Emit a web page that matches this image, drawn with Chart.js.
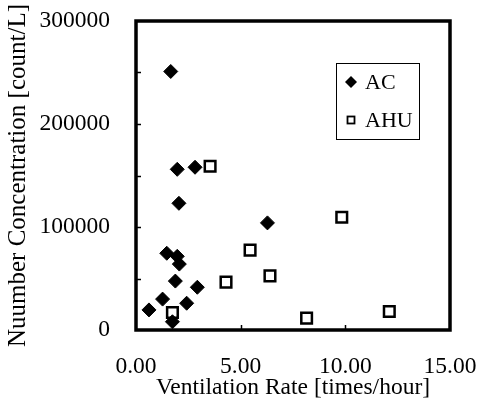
<!DOCTYPE html>
<html>
<head>
<meta charset="utf-8">
<script src="https://cdn.jsdelivr.net/npm/chart.js@4/dist/chart.umd.min.js"></script>
<style>
  html, body { margin: 0; padding: 0; background: #fff; }
  #wrap { width: 478px; height: 410px; }
</style>
</head>
<body>
<div id="wrap"><canvas id="chart" width="478" height="410"></canvas></div>
<script>
// ventilation rate [times/hour] vs number concentration [count/L]
const acRate = [1.66, 1.97, 2.82, 2.05, 6.28, 1.47, 1.97, 2.07, 1.88, 2.93, 1.27, 2.42, 0.62, 1.74];
const acCount = [251000, 156000, 158000, 123000, 104000, 74500, 71500, 64000, 47500, 41500, 30000, 26000, 19500, 8000];
const ahuRate = [3.54, 9.83, 5.45, 6.40, 4.30, 1.74, 8.15, 12.10];
const ahuCount = [159000, 109500, 77500, 52500, 46500, 17000, 11500, 18000];

const xTicks = [0, 5, 10, 15];
const yTicks = [0, 100000, 200000, 300000];
const yMinorStep = 50000;
const seriesNames = ['AC', 'AHU'];

const FONT = "'Liberation Serif', 'Times New Roman', serif";

const toPoints = (xs, ys) => xs.map((x, i) => ({ x: x, y: ys[i] }));

// fixed box sizes, no extra room for labels that stick out
const fixBox = (s, w, h) => {
    if (w) s.width = w;
    if (h) s.height = h;
    s.paddingTop = s.paddingBottom = s.paddingLeft = s.paddingRight = 0;
};

// frame, small inside ticks and the boxed legend
const framePlugin = {
    id: 'frame',
    afterDraw(chart) {
        const { ctx, chartArea: a, scales } = chart;
        ctx.save();
        ctx.strokeStyle = '#000';
        ctx.lineWidth = 1.5;
        for (let v = yTicks[0] + yMinorStep; v < yTicks[yTicks.length - 1]; v += yMinorStep) {
            const py = Math.round(scales.y.getPixelForValue(v)) + 0.5;
            ctx.beginPath(); ctx.moveTo(a.left, py); ctx.lineTo(a.left + 5, py); ctx.stroke();
        }
        xTicks.slice(1, -1).forEach(v => {
            const px = Math.round(scales.x.getPixelForValue(v)) + 0.5;
            ctx.beginPath(); ctx.moveTo(px, a.bottom); ctx.lineTo(px, a.bottom - 5); ctx.stroke();
        });
        ctx.lineWidth = 3.5;
        ctx.strokeRect(a.left, a.top, a.right - a.left, a.bottom - a.top);

        // legend
        const lx = a.right - 114, ly = a.top + 42, lw = 83, lh = 76;
        ctx.lineWidth = 1;
        ctx.strokeRect(lx + 0.5, ly + 0.5, lw, lh);
        ctx.fillStyle = '#000';
        ctx.beginPath();
        const dx = lx + 15, dy = ly + 19;
        ctx.moveTo(dx - 6, dy); ctx.lineTo(dx, dy - 6); ctx.lineTo(dx + 6, dy); ctx.lineTo(dx, dy + 6);
        ctx.closePath(); ctx.fill();
        ctx.lineWidth = 1.8;
        ctx.strokeRect(lx + 11.5, ly + 53.5, 7, 7);
        ctx.font = '22px ' + FONT;
        ctx.textBaseline = 'middle';
        ctx.fillText(seriesNames[0], lx + 29, dy + 1);
        ctx.fillText(seriesNames[1], lx + 29, ly + 58);
        ctx.restore();
    }
};

new Chart(document.getElementById('chart'), {
    type: 'scatter',
    data: {
        datasets: [
            {
                label: seriesNames[0],
                data: toPoints(acRate, acCount),
                pointStyle: 'rectRot',
                pointRadius: 7,
                backgroundColor: '#000',
                borderColor: '#000',
                borderWidth: 1
            },
            {
                label: seriesNames[1],
                data: toPoints(ahuRate, ahuCount),
                pointStyle: 'rect',
                pointRadius: 7.5,
                backgroundColor: '#fff',
                borderColor: '#000',
                borderWidth: 2.5
            }
        ]
    },
    options: {
        responsive: false,
        animation: false,
        layout: { padding: { top: 21, right: 28, left: 0, bottom: 0 } },
        plugins: { legend: { display: false }, tooltip: { enabled: false } },
        scales: {
            x: {
                type: 'linear',
                min: xTicks[0],
                max: xTicks[xTicks.length - 1],
                afterBuildTicks: s => { s.ticks = xTicks.map(v => ({ value: v })); },
                afterFit: s => fixBox(s, 0, 80),
                grid: { display: false },
                border: { display: false },
                ticks: {
                    color: '#000',
                    font: { family: FONT, size: 23.5 },
                    padding: 15,
                    maxRotation: 0,
                    callback: v => v.toFixed(2)
                },
                title: {
                    display: true,
                    text: 'Ventilation Rate [times/hour]',
                    color: '#000',
                    font: { family: FONT, size: 23.5 },
                    padding: { top: 0, bottom: 8 }
                }
            },
            y: {
                type: 'linear',
                min: yTicks[0],
                max: yTicks[yTicks.length - 1],
                afterBuildTicks: s => { s.ticks = yTicks.map(v => ({ value: v })); },
                afterFit: s => fixBox(s, 136, 0),
                grid: { display: false },
                border: { display: false },
                ticks: {
                    color: '#000',
                    font: { family: FONT, size: 23.5 },
                    padding: 18,
                    callback: v => String(v)
                },
                title: {
                    display: true,
                    text: 'Nuumber Concentration [count/L]',
                    color: '#000',
                    font: { family: FONT, size: 25 },
                    padding: { top: 3, bottom: 0 }
                }
            }
        }
    },
    plugins: [framePlugin]
});
</script>
</body>
</html>
